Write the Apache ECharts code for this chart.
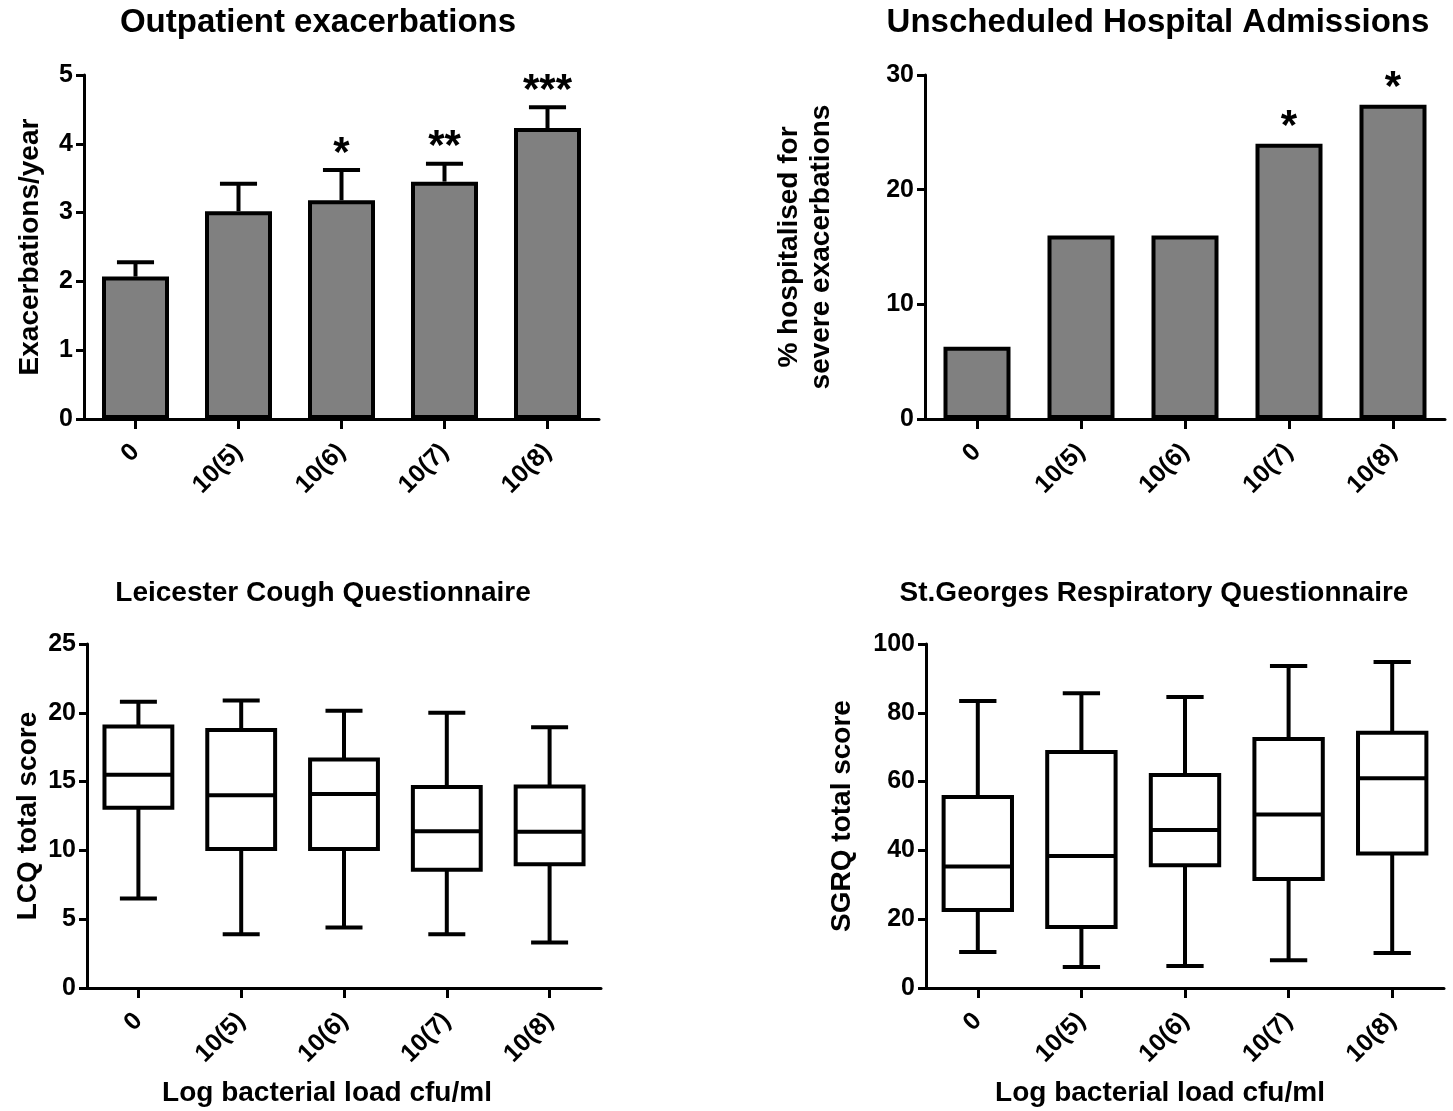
<!DOCTYPE html>
<html>
<head>
<meta charset="utf-8">
<script src="https://cdn.jsdelivr.net/npm/echarts@6/dist/echarts.min.js"></script>
<style>
html,body{margin:0;padding:0;background:#fff;}
#chart{width:1453px;height:1111px;}
</style>
</head>
<body>
<div id="chart"></div>
<script>
// ---------- DATA ----------
const categories = ['0', '10(5)', '10(6)', '10(7)', '10(8)'];

// Outpatient exacerbations (mean and upper error bar)
const exacMean  = [2.07, 3.02, 3.18, 3.45, 4.23];
const exacUpper = [2.28, 3.42, 3.62, 3.71, 4.53];
const exacStars = ['', '', '*', '**', '***'];

// Unscheduled hospital admissions (%)
const hospPct   = [6.3, 16.0, 16.0, 24.0, 27.4];
const hospStars = ['', '', '', '*', '*'];

// Leicester Cough Questionnaire box plots
const lcqMin = [6.5, 3.9, 4.4, 3.9, 3.3];
const lcqQ1  = [13.1, 10.1, 10.1, 8.6, 9.0];
const lcqMed = [15.5, 14.0, 14.1, 11.4, 11.35];
const lcqQ3  = [19.0, 18.75, 16.6, 14.6, 14.65];
const lcqMax = [20.8, 20.9, 20.15, 20.0, 18.95];

// St.Georges Respiratory Questionnaire box plots
const sgMin = [10.5, 6.1, 6.4, 8.1, 10.2];
const sgQ1  = [22.7, 17.7, 35.7, 31.7, 39.1];
const sgMed = [35.3, 38.4, 45.9, 50.4, 61.0];
const sgQ3  = [55.5, 68.6, 61.9, 72.4, 74.2];
const sgMax = [83.4, 85.7, 84.6, 93.6, 94.8];

// Axis ticks
const exacTicks = {min: 0, max: 5, interval: 1};
const hospTicks = {min: 0, max: 30, interval: 10};
const lcqTicks  = {min: 0, max: 25, interval: 5};
const sgTicks   = {min: 0, max: 100, interval: 20};

// ---------- STYLE ----------
const FONT = "'Liberation Sans', Arial, Helvetica, sans-serif";
const LW = 4;

function yAxis(idx, ticks, name, nameGap) {
  return {
    type: 'value', gridIndex: idx,
    min: ticks.min, max: ticks.max, interval: ticks.interval,
    name: name, nameLocation: 'middle', nameGap: nameGap,
    nameTextStyle: {fontFamily: FONT, fontWeight: 'bold', fontSize: 28, color: '#000', lineHeight: 32},
    axisLine: {show: true, lineStyle: {color: '#000', width: 3}},
    axisTick: {show: true, length: 8, lineStyle: {color: '#000', width: 3}},
    axisLabel: {fontFamily: FONT, fontWeight: 'bold', fontSize: 25, color: '#000', margin: 11},
    splitLine: {show: false}
  };
}
function xAxis(idx, name, padRight) {
  const ax = {
    type: 'category', gridIndex: idx, data: categories,
    boundaryGap: true,
    axisLine: {show: true, lineStyle: {color: '#000', width: 3}},
    axisTick: {show: true, alignWithLabel: true, length: 10, lineStyle: {color: '#000', width: 3}},
    axisLabel: {fontFamily: FONT, fontWeight: 'bold', fontSize: 25, color: '#000', rotate: 45, margin: 29, interval: 0},
    splitLine: {show: false}
  };
  if (name) {
    ax.name = name;
    ax.nameLocation = 'middle';
    ax.nameGap = 91;
    ax.nameTextStyle = {fontFamily: FONT, fontWeight: 'bold', fontSize: 28, color: '#000', padding: [0, padRight, 0, 0]};
  }
  return ax;
}

function errRender(upperArr, starArr) {
  return function (params, api) {
    const i = api.value(0);
    const top = api.coord([i, api.value(1)]);
    const up = api.coord([i, api.value(2)]);
    const band = api.size([1, 0])[0];
    const cw = band * 0.36;
    const children = [];
    if (api.value(2) > api.value(1)) {
      children.push({type: 'line', shape: {x1: top[0], y1: top[1], x2: up[0], y2: up[1]}, style: {stroke: '#000', lineWidth: LW}});
      children.push({type: 'line', shape: {x1: up[0] - cw / 2, y1: up[1], x2: up[0] + cw / 2, y2: up[1]}, style: {stroke: '#000', lineWidth: LW}});
    }
    const s = starArr[params.dataIndex];
    if (s) {
      children.push({type: 'text', style: {text: s, x: up[0], y: up[1] + 5, align: 'center', verticalAlign: 'bottom',
        font: 'bold 42px ' + FONT, fill: '#000'}});
    }
    return {type: 'group', children: children};
  };
}

function boxRender(params, api) {
  const i = api.value(0);
  const lo = api.coord([i, api.value(1)]);
  const q1 = api.coord([i, api.value(2)]);
  const md = api.coord([i, api.value(3)]);
  const q3 = api.coord([i, api.value(4)]);
  const hi = api.coord([i, api.value(5)]);
  const band = api.size([1, 0])[0];
  const bw = band * 0.66, cw = band * 0.36;
  const cx = lo[0];
  const st = {stroke: '#000', lineWidth: LW};
  return {type: 'group', children: [
    {type: 'line', shape: {x1: cx, y1: hi[1], x2: cx, y2: q3[1]}, style: st},
    {type: 'line', shape: {x1: cx, y1: q1[1], x2: cx, y2: lo[1]}, style: st},
    {type: 'line', shape: {x1: cx - cw / 2, y1: hi[1], x2: cx + cw / 2, y2: hi[1]}, style: st},
    {type: 'line', shape: {x1: cx - cw / 2, y1: lo[1], x2: cx + cw / 2, y2: lo[1]}, style: st},
    {type: 'rect', shape: {x: cx - bw / 2, y: q3[1], width: bw, height: q1[1] - q3[1]}, style: {fill: '#fff', stroke: '#000', lineWidth: LW}},
    {type: 'line', shape: {x1: cx - bw / 2, y1: md[1], x2: cx + bw / 2, y2: md[1]}, style: st}
  ]};
}

const exacErrData = categories.map((c, i) => [i, exacMean[i], exacUpper[i]]);
const hospStarData = categories.map((c, i) => [i, hospPct[i], hospPct[i]]);
const lcqData = categories.map((c, i) => [i, lcqMin[i], lcqQ1[i], lcqMed[i], lcqQ3[i], lcqMax[i]]);
const sgData = categories.map((c, i) => [i, sgMin[i], sgQ1[i], sgMed[i], sgQ3[i], sgMax[i]]);

function titleText(text, x, y, size) {
  return {type: 'text', x: x, y: y, style: {text: text, align: 'center', verticalAlign: 'middle',
    font: 'bold ' + size + 'px ' + FONT, fill: '#000'}};
}

const option = {
  backgroundColor: '#fff',
  animation: false,
  graphic: [
    titleText('Outpatient exacerbations', 318, 23, 33),
    titleText('Unscheduled Hospital Admissions', 1158, 23, 33),
    titleText('Leicester Cough Questionnaire', 323, 593, 28),
    titleText('St.Georges Respiratory Questionnaire', 1154, 593, 28)
  ],
  grid: [
    {left: 84, top: 75, width: 515, height: 344},
    {left: 925, top: 75, width: 520, height: 344},
    {left: 87, top: 644, width: 514, height: 344},
    {left: 926, top: 644, width: 518, height: 344}
  ],
  xAxis: [
    xAxis(0), xAxis(1),
    xAxis(2, 'Log bacterial load cfu/ml', 34),
    xAxis(3, 'Log bacterial load cfu/ml', 50)
  ],
  yAxis: [
    yAxis(0, exacTicks, 'Exacerbations/year', 38),
    yAxis(1, hospTicks, '% hospitalised for\nsevere exacerbations', 88),
    yAxis(2, lcqTicks, 'LCQ total score', 42),
    yAxis(3, sgTicks, 'SGRQ total score', 68)
  ],
  series: [
    {type: 'bar', xAxisIndex: 0, yAxisIndex: 0, data: exacMean, barWidth: 67,
      itemStyle: {color: '#808080', borderColor: '#000', borderWidth: LW}},
    {type: 'custom', xAxisIndex: 0, yAxisIndex: 0, data: exacErrData, z: 5,
      encode: {x: 0, y: [1, 2]}, renderItem: errRender(exacUpper, exacStars)},
    {type: 'bar', xAxisIndex: 1, yAxisIndex: 1, data: hospPct, barWidth: 67,
      itemStyle: {color: '#808080', borderColor: '#000', borderWidth: LW}},
    {type: 'custom', xAxisIndex: 1, yAxisIndex: 1, data: hospStarData, z: 5,
      encode: {x: 0, y: [1, 2]}, renderItem: errRender(hospPct, hospStars)},
    {type: 'custom', xAxisIndex: 2, yAxisIndex: 2, data: lcqData, z: 5,
      encode: {x: 0, y: [1, 2, 3, 4, 5]}, renderItem: boxRender},
    {type: 'custom', xAxisIndex: 3, yAxisIndex: 3, data: sgData, z: 5,
      encode: {x: 0, y: [1, 2, 3, 4, 5]}, renderItem: boxRender}
  ]
};

const chart = echarts.init(document.getElementById('chart'), null, {renderer: 'canvas'});
chart.setOption(option);
</script>
</body>
</html>
